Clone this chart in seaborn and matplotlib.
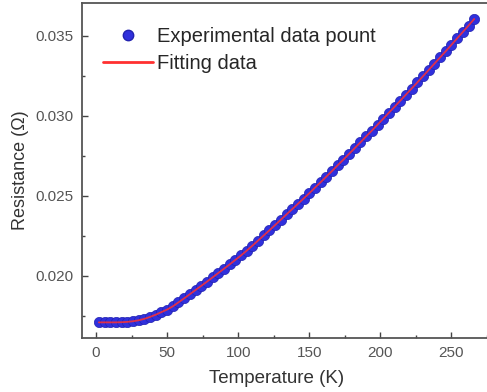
import numpy as np
import pandas as pd
import matplotlib
matplotlib.use('Agg')
import matplotlib.pyplot as plt
from matplotlib.ticker import MultipleLocator, FormatStrFormatter
from matplotlib.lines import Line2D
import seaborn as sns

# datos (T en K, R en ohm)
temperatura = [
    2, 6, 10, 14, 18, 22, 26, 30, 34, 38, 42, 46, 50, 54, 58, 62, 66, 70,
    74, 78, 82, 86, 90, 94, 98, 102, 106, 110, 114, 118, 122, 126, 130,
    134, 138, 142, 146, 150, 154, 158, 162, 166, 170, 174, 178, 182, 186,
    190, 194, 198, 202, 206, 210, 214, 218, 222, 226, 230, 234, 238, 242,
    246, 250, 254, 258, 262, 266
]
resistencia = [
    0.01710, 0.01710, 0.01710, 0.01710, 0.01711, 0.01713, 0.01717, 0.01723,
    0.01732, 0.01744, 0.01758, 0.01774, 0.01790, 0.01810, 0.01835, 0.01860,
    0.01886, 0.01912, 0.01938, 0.01964, 0.01991, 0.02018, 0.02045, 0.02072,
    0.02100, 0.02128, 0.02158, 0.02189, 0.02221, 0.02253, 0.02285, 0.02318,
    0.02351, 0.02384, 0.02417, 0.02450, 0.02483, 0.02516, 0.02551, 0.02585,
    0.02620, 0.02655, 0.02691, 0.02726, 0.02762, 0.02798, 0.02834, 0.02871,
    0.02907, 0.02944, 0.02981, 0.03019, 0.03056, 0.03094, 0.03132, 0.03170,
    0.03208, 0.03247, 0.03286, 0.03325, 0.03364, 0.03403, 0.03443, 0.03483,
    0.03523, 0.03563, 0.03604
]
# curva de ajuste (pasa por los mismos puntos)
ajuste = list(resistencia)

df = pd.DataFrame({'T': temperatura, 'R': resistencia, 'fit': ajuste})

sns.set_style('ticks')
plt.rcParams['font.family'] = ['Liberation Sans', 'DejaVu Sans']

fig = plt.figure(figsize=(4.87, 3.92), dpi=100)
ax = fig.add_axes([0.168, 0.138, 0.832, 0.854])

AZUL = '#3030dc'
BORDE = '#2222b0'
ROJO = '#ff3030'

sns.scatterplot(
    data=df, x='T', y='R',
    s=55,
    color=AZUL,
    edgecolor=BORDE,
    linewidth=0.5,
    zorder=2,
    legend=False,
    ax=ax
)

sns.lineplot(
    data=df, x='T', y='fit',
    color=ROJO,
    linewidth=1.3,
    alpha=0.85,
    zorder=3,
    legend=False,
    ax=ax
)

ax.set_xlim(-10, 275)
ax.set_ylim(0.01613, 0.03703)

ax.xaxis.set_major_locator(MultipleLocator(50))
ax.xaxis.set_minor_locator(MultipleLocator(25))
ax.yaxis.set_major_locator(MultipleLocator(0.005))
ax.yaxis.set_minor_locator(MultipleLocator(0.0025))
ax.yaxis.set_major_formatter(FormatStrFormatter('%.3f'))

ax.tick_params(which='major', direction='in', length=4, width=1,
               color='#444444', labelsize=11, labelcolor='#555555', pad=6)
ax.tick_params(which='minor', direction='in', length=2, width=1,
               color='#444444')

for lado in ['left', 'bottom', 'top']:
    ax.spines[lado].set_color('#555555')
    ax.spines[lado].set_linewidth(1.3)
ax.spines['right'].set_visible(False)

ax.set_xlabel('Temperature (K)', fontsize=13.5, color='#333333')
ax.set_ylabel('Resistance (\u03a9)', fontsize=13, color='#333333')
ax.xaxis.set_label_coords(0.48, -0.095)
ax.yaxis.set_label_coords(-0.13, 0.5)

manejadores = [
    Line2D([0], [0], marker='o', linestyle='none', markersize=7.5,
           markerfacecolor=AZUL, markeredgecolor=BORDE),
    Line2D([0], [0], color=ROJO, linewidth=2),
]
ax.legend(
    manejadores,
    ['Experimental data pount', 'Fitting data'],
    loc='upper left',
    bbox_to_anchor=(0.052, 0.93),
    frameon=False,
    fontsize=14.5,
    borderpad=0,
    borderaxespad=0,
    handlelength=2.5,
    handletextpad=0.2,
    labelspacing=0.4
)

plt.savefig('out.png', dpi=100)
